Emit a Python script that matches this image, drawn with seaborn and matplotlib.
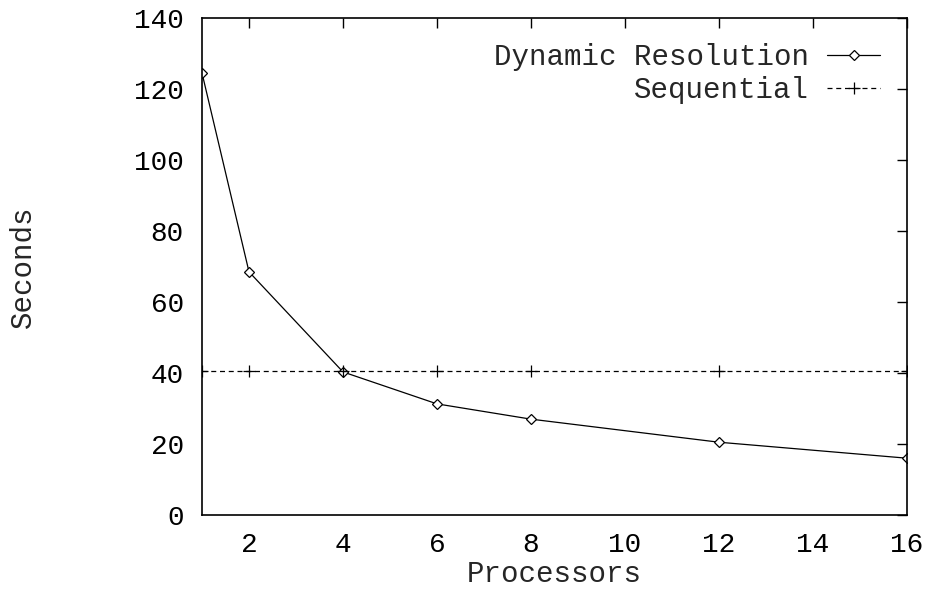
import matplotlib
matplotlib.use("Agg")
import matplotlib.pyplot as plt
import seaborn as sns
import pandas as pd

processors = [1, 2, 4, 6, 8, 12, 16]
dynamic_seconds = [124.5, 68.5, 40.3, 31.3, 27.0, 20.5, 16.0]
sequential_seconds = [40.5, 40.5, 40.5, 40.5, 40.5, 40.5, 40.5]
x_ticks = [2, 4, 6, 8, 10, 12, 14, 16]
y_ticks = [0, 20, 40, 60, 80, 100, 120, 140]

sns.set_style("white")
plt.rcParams['font.family'] = ['Liberation Mono', 'DejaVu Sans Mono']
FS_TICK = 20
FS = 21
plt.rcParams['font.size'] = FS

fig = plt.figure(figsize=(9.28, 5.89), dpi=100)
ax = fig.add_axes([202/928, 1 - 515/589, (907-202)/928, (515-18)/589])

df_dyn = pd.DataFrame({"Processors": processors, "Seconds": dynamic_seconds})
df_seq = pd.DataFrame({"Processors": processors, "Seconds": sequential_seconds})

sns.lineplot(data=df_dyn, x="Processors", y="Seconds", ax=ax, color="black", linewidth=0.9,
             marker="D", markersize=5.5, markerfacecolor="white", markeredgecolor="black",
             markeredgewidth=0.9, label="Dynamic Resolution")
sns.lineplot(data=df_seq, x="Processors", y="Seconds", ax=ax, color="black", linewidth=0.9,
             linestyle=(0, (4, 3)), marker="+", markersize=8, markeredgewidth=0.9,
             markeredgecolor="black", markerfacecolor="black",
             label="Sequential")

ax.set_xlim(1, 16)
ax.set_ylim(0, 140)
ax.set_xticks(x_ticks)
ax.set_yticks(y_ticks)
ax.tick_params(direction="in", length=7, width=1, top=True, right=True,
               labelsize=FS_TICK, colors="black")
ax.tick_params(axis="y", pad=13)
ax.tick_params(axis="x", pad=12)
for s in ax.spines.values():
    s.set_color("black")
    s.set_linewidth(1.2)
    s.set_visible(True)

ax.set_xlabel("Processors", fontsize=FS, labelpad=2)
ax.set_ylabel("Seconds", fontsize=FS, labelpad=70)

leg = ax.legend(loc="upper right", bbox_to_anchor=(1 - 27/705, 1 - 25/497),
                frameon=False, markerfirst=False, fontsize=FS,
                handlelength=1.8, handletextpad=0.65, borderaxespad=0,
                borderpad=0, labelspacing=0.18, numpoints=1)
for t in leg.get_texts():
    t.set_ha("right")
leg._legend_box.align = "right"

fig.savefig("out.png", dpi=100, facecolor="white")
